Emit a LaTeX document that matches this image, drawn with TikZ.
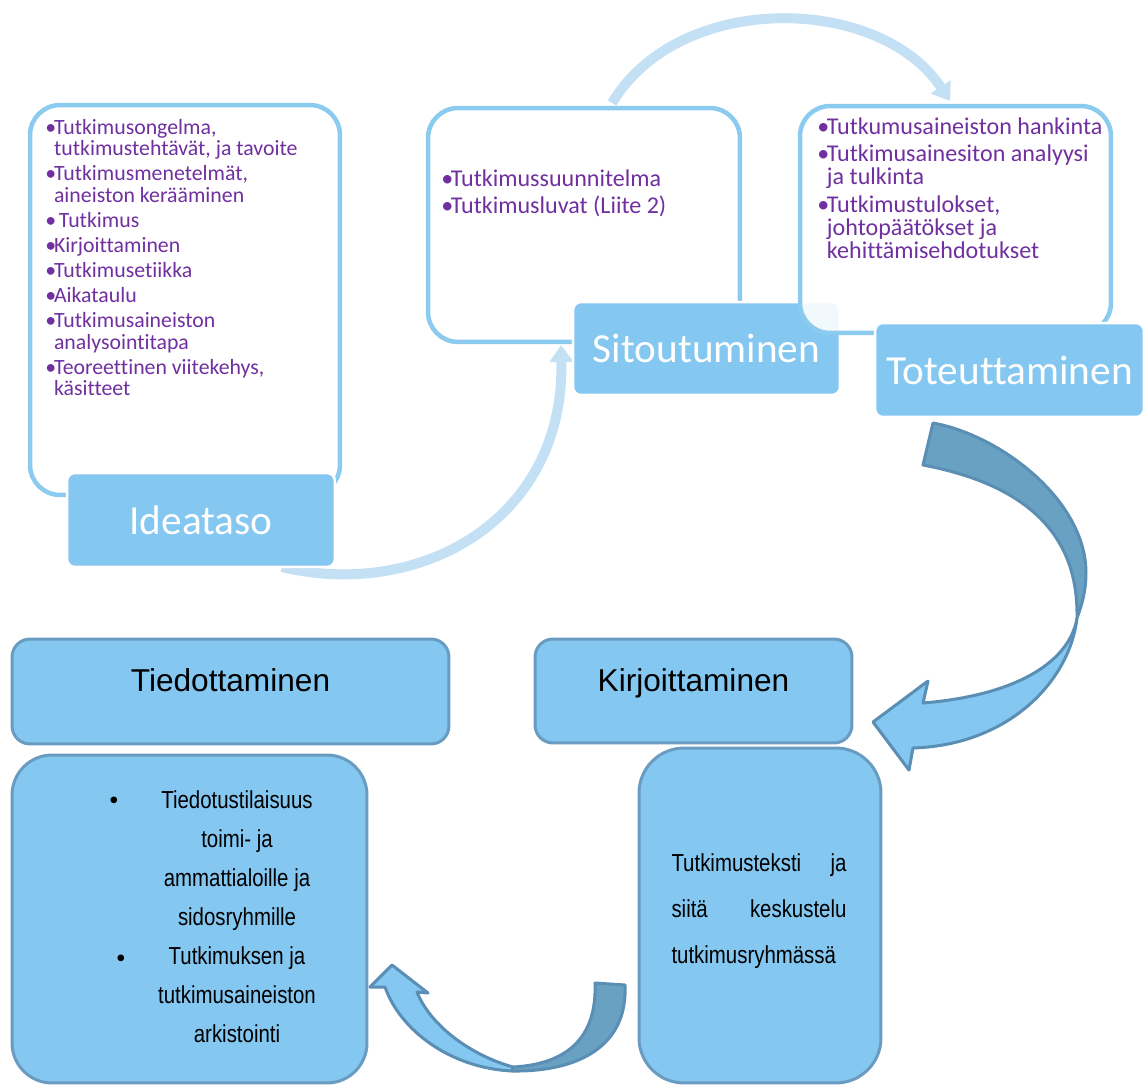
\documentclass[tikz,border=0pt]{standalone}
\usepackage{fontspec}
\setmainfont{Carlito}[Ligatures=NoCommon]
\newfontfamily\arialfont{Liberation Sans}
\newfontfamily\narrowfont[FakeStretch=0.83]{Liberation Sans}
\usetikzlibrary{arrows.meta}
\definecolor{vaalea}{HTML}{84C7F0}
\definecolor{kehysvari}{HTML}{8CCBF0}
\definecolor{kaarivari}{HTML}{C4E0F5}
\definecolor{tumma}{HTML}{68A1C2}
\definecolor{reuna}{HTML}{5B8EB4}
\definecolor{laatikkoreuna}{HTML}{6A9BC0}
\definecolor{violetti}{HTML}{7030A0}
\newcommand{\pallo}{\makebox[0.4em][l]{•}}
\newcommand{\sisa}{\hspace*{0.4em}}

\begin{document}
\begin{tikzpicture}[x=0.02cm,y=-0.02cm,
  kehys/.style={draw=kehysvari, fill=white, line width=0.09cm, rounded corners=0.6cm, inner sep=0},
  otsikko/.style={fill=vaalea, draw=white, line width=0.05cm, rounded corners=0.16cm, text=white, font=\fontsize{23.5}{26}\selectfont, inner sep=0},
  laatikko/.style={fill=vaalea, draw=laatikkoreuna, line width=0.06cm, rounded corners=0.36cm, inner sep=0},
  lista/.style={text=violetti, align=left, inner sep=0, anchor=north west},
  kaariviiva/.style={draw=kaarivari, line width=0.2cm, -{Triangle[width=0.46cm,length=0.34cm]}},
  nuoli/.style={draw=reuna, line width=0.06cm, line join=round}
]
\useasboundingbox (0,0) rectangle (1144,1086);

\coordinate (kaari1alku) at (282,567);
\coordinate (kaari1loppu) at (561,345);
\coordinate (kaari2alku) at (612,103);
\coordinate (kaari2loppu) at (950,101);
\draw[kaariviiva] (kaari1alku) .. controls (420,600) and (565,520) .. (kaari1loppu);
\draw[kaariviiva] (kaari2alku) .. controls (680,-10) and (880,-5) .. (kaari2loppu);

\node[kehys, minimum width=6.2cm, minimum height=7.8cm] (ideakehys) at (185,300) {};
\node[otsikko, minimum width=5.36cm, minimum height=1.88cm] (ideataso) at (201,520) {Ideataso};
\node[lista, font=\fontsize{12.4}{12.1}\selectfont] (idealista) at (45,119) {%
\pallo Tutkimusongelma,\\
\sisa tutkimustehtävät, ja tavoite\\[2.2pt]
\pallo Tutkimusmenetelmät,\\
\sisa aineiston kerääminen\\[2.2pt]
\pallo\ Tutkimus\\[2.2pt]
\pallo Kirjoittaminen\\[2.2pt]
\pallo Tutkimusetiikka\\[2.2pt]
\pallo Aikataulu\\[2.2pt]
\pallo Tutkimusaineiston\\
\sisa analysointitapa\\[2.2pt]
\pallo Teoreettinen viitekehys,\\
\sisa käsitteet};

\node[kehys, minimum width=6.24cm, minimum height=4.68cm] (sitokehys) at (584,225) {};
\node[otsikko, minimum width=5.34cm, minimum height=1.86cm] (sitoutuminen) at (706.5,348.5) {Sitoutuminen};
\node[lista, font=\fontsize{13.7}{13}\selectfont] (sitolista) at (441,169) {%
\pallo Tutkimussuunnitelma\\[2.8pt]
\pallo Tutkimusluvat (Liite 2)};

\node[kehys, fill opacity=0.9, minimum width=6.22cm, minimum height=4.54cm] (totekehys) at (955.5,219.5) {};
\node[otsikko, minimum width=5.38cm, minimum height=1.88cm] (toteuttaminen) at (1009.5,370) {Toteuttaminen};
\node[lista, font=\fontsize{13.7}{13}\selectfont] (totelista) at (817,117) {%
\pallo Tutkumusaineiston hankinta\\[2.8pt]
\pallo Tutkimusainesiton analyysi\\
\sisa ja tulkinta\\[2.8pt]
\pallo Tutkimustulokset,\\
\sisa johtopäätökset ja\\
\sisa kehittämisehdotukset};

\filldraw[nuoli, fill=tumma] (933,423) .. controls (1000,435) and (1086,500) .. (1086,573)
  .. controls (1086,590) and (1082,605) .. (1077,618)
  .. controls (1078,560) and (1055,490) .. (923,465) -- cycle;
\filldraw[nuoli, fill=vaalea] (1077,618) .. controls (1070,660) and (1020,695) .. (923,703)
  -- (928,681) -- (873,722) -- (909,770) -- (913,748)
  .. controls (1010,745) and (1070,680) .. (1077,618) -- cycle;

\node[laatikko, minimum width=8.74cm, minimum height=2.1cm, font=\arialfont\fontsize{18}{20}\selectfont, text height=0.46cm, text depth=0.46cm] (tiedottaminen) at (230.5,691.5) {Tiedottaminen};
\node[laatikko, minimum width=6.34cm, minimum height=2.08cm, font=\arialfont\fontsize{18}{20}\selectfont, text height=0.46cm, text depth=0.46cm] (kirjoittaminen) at (693.5,691) {Kirjoittaminen};

\node[laatikko, minimum width=7.1cm, minimum height=6.56cm, rounded corners=0.8cm] (tiedotus) at (189.5,919) {};
\node[font=\narrowfont\fontsize{14}{22.2}\selectfont, align=center, inner sep=0] (tiedotusteksti) at (237,917) {Tiedotustilaisuus\\toimi- ja\\ammattialoille ja\\sidosryhmille\\Tutkimuksen ja\\tutkimusaineiston\\arkistointi};
\node[font=\arialfont\fontsize{14}{16}\selectfont, inner sep=0] (pallo1) at (114,803) {•};
\node[font=\arialfont\fontsize{14}{16}\selectfont, inner sep=0] (pallo2) at (121,961) {•};

\node[laatikko, minimum width=4.84cm, minimum height=6.7cm, rounded corners=0.9cm] (teksti) at (760,915.5) {};
\node[font=\narrowfont\fontsize{14}{26}\selectfont, text width=3.5cm, align=left, inner sep=0] (tekstisisalto) at (759,911) {Tutkimusteksti\hfill ja\\siitä\hfill keskustelu\\tutkimusryhmässä};

\filldraw[nuoli, fill=tumma] (595,983) -- (625,985) .. controls (628,1045) and (580,1072) .. (512,1071)
  -- (513,1067) .. controls (570,1064) and (597,1035) .. (595,983) -- cycle;
\filldraw[nuoli, fill=vaalea] (513,1067) .. controls (470,1055) and (430,1025) .. (417,992)
  -- (428,993) -- (392,965) -- (370,987) -- (385,987)
  .. controls (400,1030) and (450,1068) .. (512,1071) -- cycle;
\end{tikzpicture}
\end{document}
